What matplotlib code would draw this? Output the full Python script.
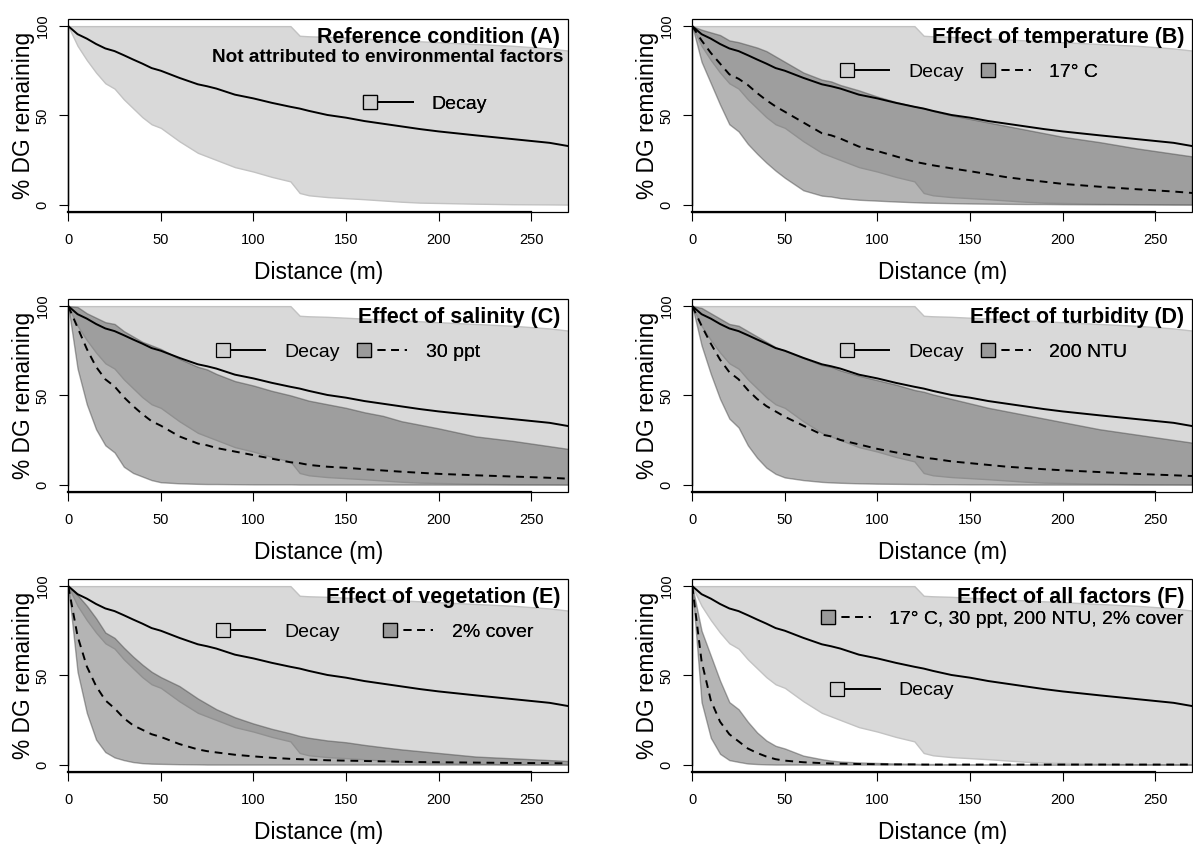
"""
DG 残留比例随距离衰减的六联图（参考条件 + 各环境因子效应）
"""

import matplotlib
matplotlib.use("Agg")
import matplotlib.pyplot as plt
from matplotlib.lines import Line2D
from matplotlib.patches import Rectangle
from matplotlib.legend_handler import HandlerLine2D

plt.rcParams["font.family"] = ["Liberation Sans", "DejaVu Sans"]
plt.rcParams["ytick.alignment"] = "center"

# ---- 数据 ----
distance = [0, 5, 10, 15, 20, 25, 30, 35, 40, 45, 50, 60, 70, 75, 80, 90, 100,
            110, 120, 125, 130, 140, 150, 160, 170, 180, 190, 200, 220, 240, 260, 270]

# 参考条件（Decay）
decay_mean = [100, 95.5, 93, 90, 87.5, 86, 83.7, 81.3, 79, 76.5, 75, 71, 67.4, 66.3, 65, 61.6, 59.5,
              57, 54.8, 53.8, 52.5, 50.2, 48.7, 46.8, 45.3, 43.8, 42.3, 41, 38.8, 36.7, 34.6, 32.8]
decay_hi = [100, 100, 100, 100, 100, 100, 100, 100, 100, 100, 100, 100, 100, 100, 100, 100, 100,
            100, 100, 94.6, 94.3, 94, 93.5, 93, 92.5, 92, 91.5, 91, 90, 89, 87.5, 86.3]
decay_lo = [100, 89, 81, 74, 68, 65, 59, 54, 49, 45, 43, 35.5, 29, 27, 25, 21, 18.5,
            15.5, 13, 6.5, 5.2, 4.2, 3.6, 3, 2.3, 1.6, 1.1, 0.9, 0.5, 0.2, 0.1, 0]

# 温度 17° C
temp_mean = [100, 92, 85, 79, 73, 70.5, 67, 62.5, 58.5, 55, 52, 46, 40, 38.8, 37, 32.5, 30,
             27, 24, 23, 22, 20.3, 18.7, 17, 15.3, 14, 12.8, 11.6, 10, 8.6, 7.3, 6.5]
temp_hi = [100, 98, 96.5, 95, 92, 91, 89.5, 88, 86, 83, 80, 74, 70, 69, 67, 64, 60.5,
           57.5, 55, 54, 52.5, 50, 48, 46, 44, 42, 40, 38, 35, 31.5, 28.5, 27]
temp_lo = [100, 80, 68, 56, 45, 41, 34, 28.5, 23.5, 19, 15, 8, 5, 4.5, 3.6, 2.7, 2.2,
           1.7, 1.3, 1.1, 1, 0.8, 0.6, 0.5, 0.4, 0.3, 0.3, 0.2, 0.1, 0.1, 0, 0]

# 盐度 30 ppt
sal_mean = [100, 88, 76, 66, 59, 55, 49, 44, 39.5, 35.5, 33, 27, 23, 22, 20.5, 18.5, 16.5,
            14.5, 12.5, 12, 11, 10, 9.4, 8.6, 7.9, 7.2, 6.6, 6, 5.2, 4.5, 3.8, 3.3]
sal_hi = [100, 99.5, 96, 93.5, 91, 90, 86, 83, 80, 78, 76, 70.5, 66, 64.5, 62, 58, 55.5,
          52.5, 50, 48.5, 47, 45, 43, 40.5, 38.5, 35.5, 33.5, 31.5, 27, 24.5, 21.5, 20]
sal_lo = [100, 65, 45, 31, 22, 18, 10, 6.5, 4.5, 2.5, 1.3, 0.7, 0.4, 0.3, 0.3, 0.2, 0.1,
          0.1, 0.1, 0, 0, 0, 0, 0, 0, 0, 0, 0, 0, 0, 0, 0]

# 浊度 200 NTU
turb_mean = [100, 89, 79, 70, 63, 59, 53, 48, 44, 41, 38, 33, 28, 27, 25, 22.5, 20,
             18, 16, 15, 14.5, 13, 12, 11, 10, 9.3, 8.6, 8, 7, 6, 5.2, 4.8]
turb_hi = [100, 99, 96, 93, 90, 89, 86, 83, 80, 77, 75, 71, 67, 66, 64, 61, 58.5,
           56, 53, 52, 50.5, 48, 45.5, 43, 41, 39, 37, 35, 31, 28, 25, 23.5]
turb_lo = [100, 78, 62, 48, 37, 32, 22, 15, 9.5, 6, 4, 2.5, 1.5, 1.2, 1, 0.7, 0.5,
           0.4, 0.3, 0.3, 0.2, 0.2, 0.1, 0.1, 0, 0, 0, 0, 0, 0, 0, 0]

# 植被 2% cover
veg_mean = [100, 72, 55, 44, 36, 31.5, 26, 22, 19.5, 17, 15.5, 11.5, 8.5, 7.5, 6.8, 5.5, 4.6,
            3.8, 3.2, 3, 2.8, 2.4, 2.2, 2, 1.8, 1.6, 1.4, 1.3, 1.1, 0.9, 0.8, 0.7]
veg_hi = [100, 95, 89, 82, 74, 71, 65.5, 60.5, 56, 52, 49, 44, 37, 34, 31, 26.5, 23,
          20, 17.5, 16, 15, 13.5, 12.5, 11, 9.7, 8.5, 7.5, 6.5, 4.5, 3.5, 2.5, 2]
veg_lo = [100, 52, 29, 14, 7, 4, 2.5, 1.4, 0.8, 0.5, 0.4, 0.2, 0.1, 0, 0, 0, 0,
          0, 0, 0, 0, 0, 0, 0, 0, 0, 0, 0, 0, 0, 0, 0]

# 全部因子
all_mean = [100, 58, 36, 24, 17, 13, 9, 6.5, 4.5, 3, 2.2, 1.3, 0.8, 0.6, 0.5, 0.3, 0.2,
            0.1, 0.1, 0, 0, 0, 0, 0, 0, 0, 0, 0, 0, 0, 0, 0]
all_hi = [100, 75, 61, 47, 35, 31, 24, 18, 13.5, 10.5, 9, 5, 3, 2.2, 1.7, 1.2, 0.9,
          0.6, 0.4, 0.3, 0.3, 0.2, 0.1, 0, 0, 0, 0, 0, 0, 0, 0, 0]
all_lo = [100, 35, 15, 6, 2.5, 1.5, 0.6, 0.3, 0.1, 0, 0, 0, 0, 0, 0, 0, 0,
          0, 0, 0, 0, 0, 0, 0, 0, 0, 0, 0, 0, 0, 0, 0]

titles = ["Reference condition (A)", "Effect of temperature (B)", "Effect of salinity (C)",
          "Effect of turbidity (D)", "Effect of vegetation (E)", "Effect of all factors (F)"]
subtitle_a = "Not attributed to environmental factors"
treat_labels = [None, "17° C", "30 ppt", "200 NTU", "2% cover", "17° C, 30 ppt, 200 NTU, 2% cover"]
treat_series = [None, (temp_mean, temp_lo, temp_hi), (sal_mean, sal_lo, sal_hi),
                (turb_mean, turb_lo, turb_hi), (veg_mean, veg_lo, veg_hi), (all_mean, all_lo, all_hi)]
x_ticks = [0, 50, 100, 150, 200, 250]
y_ticks = [0, 50, 100]

# ---- 版式 ----
W, H = 1193, 846
col_x = [68.3, 692.3]
row_top = [19, 299, 579]
ax_w, ax_h = 499.8, 192.7

# 图例位置（数据坐标：标记中心）
legend_pos = [
    {"decay": (163, 56.3)},
    {"decay": (83.4, 74.4), "treat": (159.6, 74.4)},
    {"decay": (83.4, 74.4), "treat": (159.9, 74.4)},
    {"decay": (83.4, 74.4), "treat": (159.6, 74.4)},
    {"decay": (83.4, 74.4), "treat": (174, 74.4)},
    {"decay": (78.4, 41.5), "treat": (73.3, 81.7)},
]

LIGHT = "#d9d9d9"
LIGHT_EDGE = "#c2c2c2"
DARK = (0.30, 0.30, 0.30, 0.42)
DARK_EDGE = (0.25, 0.25, 0.25, 0.45)
LW = 1.4


class StartMarkerHandler(HandlerLine2D):
    """标记画在线段左端（仿 R 图例）"""
    def create_artists(self, legend, orig_handle, xdescent, ydescent,
                       width, height, fontsize, trans):
        arts = super().create_artists(legend, orig_handle, xdescent, ydescent,
                                      width, height, fontsize, trans)
        for a in arts:
            if len(a.get_xdata()) > 1:
                a.set_markevery([0])
        return arts


def add_entry(ax, handle, label, pos):
    leg = ax.legend(handles=[handle], labels=[label], loc="center left",
                    bbox_to_anchor=pos, bbox_transform=ax.transData,
                    frameon=False, borderpad=0, borderaxespad=0,
                    handlelength=2.2, handletextpad=0.95, fontsize=14,
                    handler_map={Line2D: StartMarkerHandler(numpoints=1)})
    ax.add_artist(leg)


fig, axes = plt.subplots(3, 2, figsize=(W / 100, H / 100), dpi=100)

for i, ax in enumerate(axes.flat):
    r, c = divmod(i, 2)
    ax.set_position([col_x[c] / W, 1 - (row_top[r] + ax_h) / H, ax_w / W, ax_h / H])

    # 参考带
    ax.fill_between(distance, decay_lo, decay_hi, facecolor=LIGHT,
                    edgecolor=LIGHT_EDGE, lw=1.0, zorder=1)
    if treat_series[i] is not None:
        t_mean, t_lo, t_hi = treat_series[i]
        ax.fill_between(distance, t_lo, t_hi, facecolor=DARK,
                        edgecolor=DARK_EDGE, lw=1.0, zorder=2)
    ax.plot(distance, decay_mean, color="k", lw=LW, zorder=3)
    if treat_series[i] is not None:
        ax.plot(distance, t_mean, color="k", lw=LW, ls=(0, (4, 3)), zorder=3)

    ax.set_xlim(0, 270)
    ax.set_ylim(-4, 104)
    ax.set_xticks(x_ticks)
    ax.set_yticks(y_ticks)
    ax.tick_params(direction="out", length=6.5, width=0.8, labelsize=10.5)
    ax.tick_params(axis="x", pad=9)
    ax.tick_params(axis="y", labelrotation=90, pad=7)

    for s in ("top", "right"):
        ax.spines[s].set_visible(False)
    ax.spines["bottom"].set_bounds(x_ticks[0], x_ticks[-1])
    ax.spines["bottom"].set_linewidth(1.6)
    ax.spines["left"].set_bounds(y_ticks[0], y_ticks[-1])
    ax.spines["left"].set_linewidth(1.0)
    ax.add_patch(Rectangle((0, 0), 1, 1, transform=ax.transAxes, fill=False,
                           ec="k", lw=0.9, clip_on=False, zorder=5))

    ax.set_xlabel("Distance (m)", fontsize=16.4)
    ax.xaxis.set_label_coords(0.5, -0.254)
    ax.set_ylabel("% DG remaining", fontsize=16.4)
    ax.yaxis.set_label_coords(-0.0676, 0.5)

    ax.text(0.984, 0.905, titles[i], transform=ax.transAxes, ha="right",
            va="center", fontsize=15.5, fontweight="bold", zorder=6)
    if i == 0:
        ax.text(0.99, 0.80, subtitle_a, transform=ax.transAxes, ha="right",
                va="center", fontsize=13.7, fontweight="bold", zorder=6)

    # 图例
    h_decay = Line2D([], [], color="k", lw=LW, marker="s", ms=9.5,
                     mfc="#d0d0d0", mec="k", mew=0.9)
    add_entry(ax, h_decay, "Decay", legend_pos[i]["decay"])
    if treat_labels[i] is not None:
        h_treat = Line2D([], [], color="k", lw=LW, ls=(0, (4, 3)), marker="s", ms=9.5,
                         mfc="#9a9a9a", mec="k", mew=0.9)
        add_entry(ax, h_treat, treat_labels[i], legend_pos[i]["treat"])

fig.savefig("out.png", dpi=100)
